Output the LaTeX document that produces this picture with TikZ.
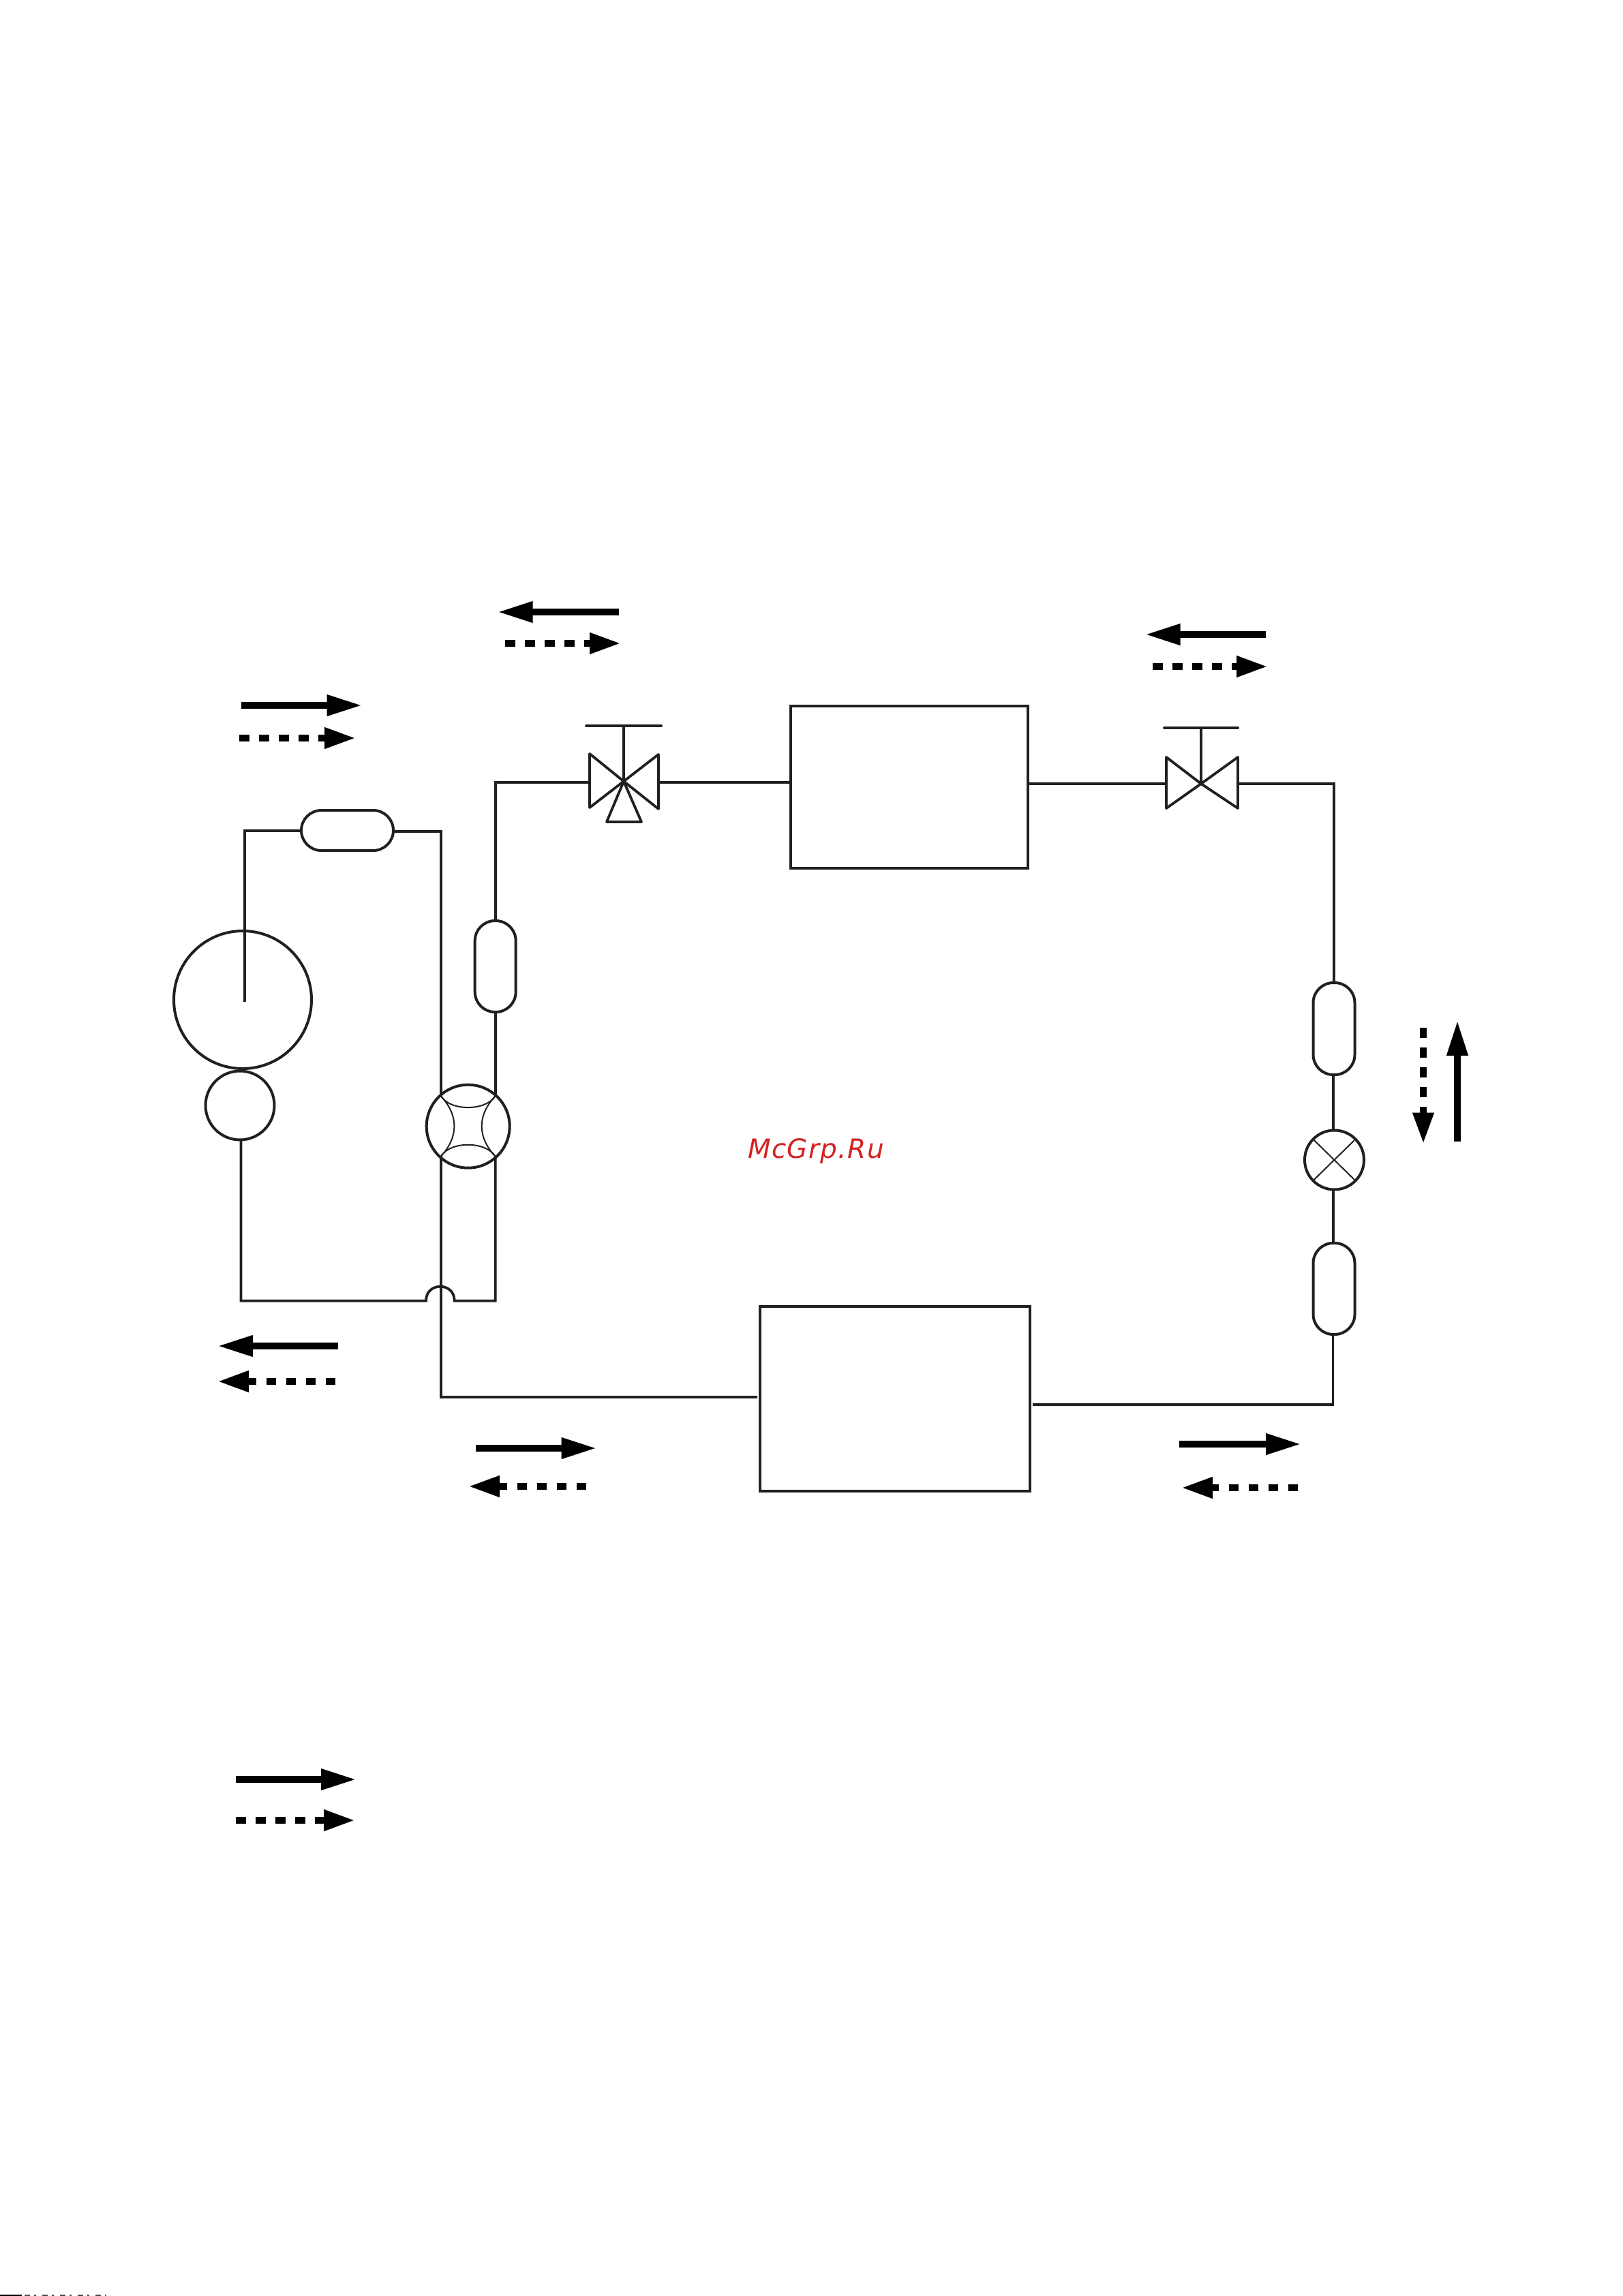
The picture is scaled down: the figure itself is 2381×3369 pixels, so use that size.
\documentclass[tikz,border=0pt]{standalone}
\usepackage{fontspec}
\newfontfamily\markfont[LetterSpace=3.4]{DejaVu Sans}
\usetikzlibrary{arrows.meta}
\definecolor{ink}{HTML}{231F20}
\definecolor{markred}{HTML}{D42222}
\tikzset{
  pipe/.style={draw=ink,line width=3.8pt,line join=miter},
  symb/.style={draw=ink,line width=3.8pt,line join=round,line cap=round},
  vessel/.style={draw=ink,line width=4pt,circle,inner sep=0pt,outer sep=0pt},
  capsule/.style={draw=ink,line width=4pt,rectangle,rounded corners=29.5pt,inner sep=0pt,outer sep=0pt},
  unitbox/.style={draw=ink,line width=3.8pt,rectangle,inner sep=0pt,outer sep=0pt},
  fine/.style={draw=ink,line width=2pt},
  solidflow/.style={line width=10pt,black,shorten >=-3pt,-{Triangle[length=52pt,width=29pt]}},
  dashflow/.style={line width=10pt,black,shorten >=-3pt,dash pattern=on 14.5pt off 14.5pt,-{Triangle[length=46pt,width=29pt]}},
  scrap/.style={line width=2pt,black},
  scrapdash/.style={line width=2pt,black!70,dash pattern=on 8pt off 6pt on 3pt off 9pt},
}
\newcommand{\flow}[4]{%
  \coordinate (#2a) at (#3);\coordinate (#2b) at (#4);
  \draw[#1] (#2a) -- (#2b);}
\begin{document}
\begin{tikzpicture}[x=1pt,y=-1pt]
\useasboundingbox (0,0) rectangle (2381,3369);
% vessels and units
\node[vessel,minimum size=202pt] (comp) at (356,1467) {};
\node[vessel,minimum size=101pt] (acc) at (352,1622) {};
\node[capsule,minimum width=135pt,minimum height=59pt] (capA) at (509.5,1218.5) {};
\node[capsule,minimum width=60pt,minimum height=134pt] (capB) at (726.7,1418) {};
\node[capsule,minimum width=61pt,minimum height=135pt] (capC) at (1957,1509.5) {};
\node[capsule,minimum width=61pt,minimum height=134pt] (capD) at (1957,1891) {};
\node[vessel,minimum size=122pt] (rev) at (686.7,1652.7) {};
\node[vessel,minimum size=87pt] (exp) at (1957.5,1702) {};
\node[unitbox,minimum width=348pt,minimum height=238pt] (boxA) at (1334,1155) {};
\node[unitbox,minimum width=396pt,minimum height=271pt] (boxB) at (1313,2052.5) {};
% junction points
\coordinate (valveA) at (915,1146.4);
\coordinate (valveAl) at (865,1148);
\coordinate (valveAr) at (968,1148);
\coordinate (valveB) at (1762,1150);
\coordinate (valveBl) at (1711,1150);
\coordinate (valveBr) at (1816,1150);
\coordinate (revTL) at (646.7,1608);
\coordinate (revTR) at (726.7,1608);
\coordinate (revBL) at (646.7,1697);
\coordinate (revBR) at (726.7,1697);
\coordinate (intake) at (359,1470);
\coordinate (topA) at (359,1219);
\coordinate (capAl) at (442,1219);
\coordinate (capAr) at (577,1220);
\coordinate (topB) at (646.7,1220);
\coordinate (accOut) at (353.5,1673);
\coordinate (lowA) at (353.5,1908.7);
\coordinate (humpL) at (625,1908.7);
\coordinate (humpR) at (666.7,1908.7);
\coordinate (lowB) at (726.7,1908.7);
\coordinate (topC) at (726.7,1148);
\coordinate (boxAw) at (1160,1148);
\coordinate (boxAe) at (1508,1150);
\coordinate (topD) at (1956.7,1150);
\coordinate (capCn) at (1956.7,1442);
\coordinate (capCs) at (1956,1577);
\coordinate (expN) at (1956,1658.5);
\coordinate (expS) at (1956,1745.5);
\coordinate (capDn) at (1956,1824);
\coordinate (capDs) at (1955.5,1958);
\coordinate (lowD) at (1955.5,2061);
\coordinate (boxBw) at (1111,2050);
\coordinate (boxBe) at (1515,2061);
\coordinate (lowC) at (646.7,2050);
% pipes
\draw[pipe] (intake) -- (topA) -- (capAl);
\draw[pipe] (capAr) -- (topB) -- (revTL);
\draw[pipe] (accOut) -- (lowA) -- (humpL)
  .. controls (625,1880.7) and (666.7,1880.7) .. (humpR) -- (lowB) -- (revBR);
\draw[pipe] (revBL) -- (lowC) -- (boxBw);
\draw[pipe] (revTR) -- (capB.south);
\draw[pipe] (capB.north) -- (topC) -- (valveAl);
\draw[pipe] (valveAr) -- (boxAw);
\draw[pipe] (boxAe) -- (valveBl);
\draw[pipe] (valveBr) -- (topD) -- (capCn);
\draw[pipe] (capCs) -- (expN);
\draw[pipe] (expS) -- (capDn);
\draw[pipe] (capDs) -- (lowD) -- (boxBe);
% reversing valve inner arcs
\draw[fine] (revTL) .. controls (660,1630.7) and (713,1630.7) .. (revTR);
\draw[fine] (revBL) .. controls (660,1674) and (713,1674) .. (revBR);
\draw[fine] (revTL) .. controls (673,1637) and (673,1668) .. (revBL);
\draw[fine] (revTR) .. controls (700,1637) and (700,1668) .. (revBR);
% expansion valve cross
\draw[fine] (1927.7,1673) -- (1987,1731);
\draw[fine] (1927.7,1731) -- (1987,1673);
% service valves
\draw[symb] (valveA) -- (865,1106) -- (865,1185) -- cycle;
\draw[symb] (valveA) -- (966,1107) -- (966,1187) -- cycle;
\draw[symb] (valveA) -- (890,1206) -- (941,1206) -- cycle;
\draw[symb] (valveA) -- (915,1065);
\draw[symb] (860,1065) -- (970,1065);
\draw[symb] (valveB) -- (1711,1111) -- (1711,1186) -- cycle;
\draw[symb] (valveB) -- (1816,1111) -- (1816,1186) -- cycle;
\draw[symb] (valveB) -- (1762,1068);
\draw[symb] (1708,1068) -- (1816,1068);
% flow arrows
\flow{solidflow}{fa}{353.5,1035}{528.5,1035}
\flow{dashflow}{fb}{351,1083}{519,1083}
\flow{solidflow}{fc}{908,898}{732.7,898}
\flow{dashflow}{fd}{741,944}{908,944}
\flow{solidflow}{fe}{1857,931}{1682.6,931}
\flow{dashflow}{ff}{1691,978}{1857,978}
\flow{solidflow}{fg}{496,1975}{322,1975}
\flow{dashflow}{fh}{492,2027}{322,2027}
\flow{solidflow}{fi}{698,2125}{872.5,2125}
\flow{dashflow}{fj}{860,2181}{690,2181}
\flow{solidflow}{fk}{1730,2119}{1906,2119}
\flow{dashflow}{fl}{1904,2183}{1736,2183}
\flow{dashflow}{fm}{2088,1508}{2088,1675.5}
\flow{solidflow}{fn}{2138,1675}{2138,1500}
\flow{solidflow}{fo}{346,2611}{520,2611}
\flow{dashflow}{fp}{346,2671}{518,2671}
% bottom edge remnant
\coordinate (scrapA) at (0,3368);\coordinate (scrapB) at (32,3368);
\coordinate (scrapC) at (36,3368);\coordinate (scrapD) at (156,3368);
\draw[scrap] (scrapA) -- (scrapB);
\draw[scrapdash] (scrapC) -- (scrapD);
% watermark
\node[inner sep=0pt,anchor=base west,text=markred] (mark) at (1097,1699)
  {\fontsize{39}{45}\selectfont\markfont\itshape McGrp.Ru};
\end{tikzpicture}
\end{document}
